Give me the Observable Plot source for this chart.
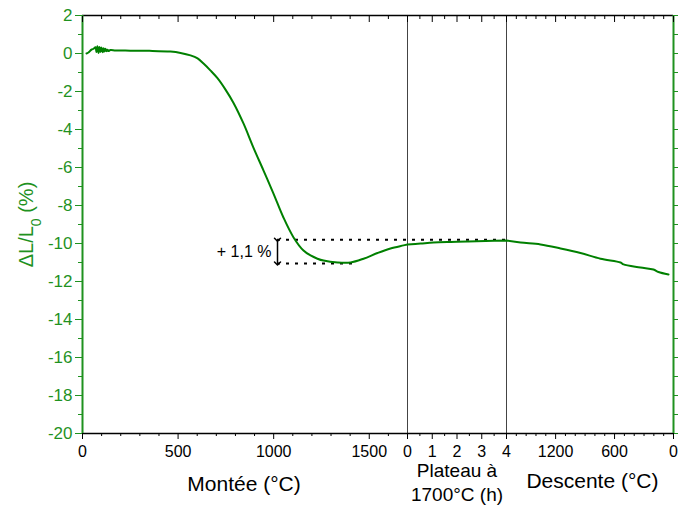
<!DOCTYPE html>
<html>
<head>
<meta charset="utf-8">
<script src="https://cdn.jsdelivr.net/npm/d3@7"></script>
<script src="https://cdn.jsdelivr.net/npm/@observablehq/plot@0.6"></script>
<style>
  html, body { margin: 0; padding: 0; background: #fff; }
  #chart { width: 678px; height: 513px; }
</style>
</head>
<body>
<div id="chart"></div>
<script>
// ---- Data ----
// Montée (heating, °C) vs ΔL/L0 (%)
const montee_T  = [21, 31, 47, 58, 68, 73, 78, 84, 89, 94, 99, 105, 110, 115, 120, 126, 131, 136, 146, 173, 250, 350, 460, 513, 565, 602, 633, 670, 706, 748, 790, 842, 894, 947, 999, 1051, 1104, 1156, 1193, 1229, 1261, 1334, 1402, 1470, 1543, 1611, 1679, 1700];
const montee_dL = [0.0, 0.05, 0.2, 0.25, 0.33, 0.08, 0.38, 0.03, 0.34, 0.08, 0.32, 0.06, 0.28, 0.1, 0.25, 0.12, 0.2, 0.13, 0.18, 0.16, 0.15, 0.14, 0.1, 0.03, -0.1, -0.26, -0.53, -0.9, -1.3, -1.9, -2.6, -3.68, -4.95, -6.16, -7.37, -8.63, -9.68, -10.37, -10.63, -10.8, -10.9, -11.0, -11.0, -10.8, -10.5, -10.26, -10.1, -10.05];
// Plateau à 1700°C (h)
const plateau_h  = [0, 0.53, 1.05, 1.74, 2.42, 3.15, 4];
const plateau_dL = [-10.05, -10.0, -9.95, -9.92, -9.9, -9.87, -9.84];
// Descente (cooling, °C)
const descente_T  = [1700, 1557, 1354, 1150, 947, 743, 539, 509, 336, 204, 153, 51];
const descente_dL = [-9.84, -9.95, -10.05, -10.26, -10.5, -10.8, -11.0, -11.1, -11.26, -11.37, -11.5, -11.63];

// Tick values
const montee_major = [0, 500, 1000, 1500];
const montee_minor = [100, 200, 300, 400, 600, 700, 800, 900, 1100, 1200, 1300, 1400, 1600];
const plateau_major = [0, 1, 2, 3, 4];
const plateau_minor = [0.5, 1.5, 2.5, 3.5];
const descente_major = [1200, 600, 0];
const descente_minor = [1600, 1500, 1400, 1300, 1100, 1000, 900, 800, 700, 500, 400, 300, 200, 100];
const y_major = [2, 0, -2, -4, -6, -8, -10, -12, -14, -16, -18, -20];
const y_minor = [1, -1, -3, -5, -7, -9, -11, -13, -15, -17, -19];

// Annotation (+1,1 %)
const annot_text = "+ 1,1 %";
const annot_top = -9.8, annot_bottom = -11.05, annot_T = 1020, annot_bottom_end_T = 1412;

// ---- Composite x axis (three segments) ----
const W_M = 325, W_P = 99, W_D = 167;
const uM = T => T / 1700 * W_M;
const uP = h => W_M + h / 4 * W_P;
const uD = T => W_M + W_P + (1700 - T) / 1700 * W_D;

const curve = [
  ...montee_T.map((t, i) => ({u: uM(t), v: montee_dL[i]})),
  ...plateau_h.map((h, i) => ({u: uP(h), v: plateau_dL[i]})),
  ...descente_T.map((t, i) => ({u: uD(t), v: descente_dL[i]}))
];

const xLabels = [
  ...montee_major.map(t => ({u: uM(t), label: String(t)})),
  ...plateau_major.map(h => ({u: uP(h), label: String(h)})),
  ...descente_major.map(t => ({u: uD(t), label: String(t)}))
];
const xMajor = xLabels.map(d => d.u);
const xMinor = [...montee_minor.map(uM), ...plateau_minor.map(uP), ...descente_minor.map(uD)];

const GREEN = "#008000";
const AXG = "#1f921f";
const FONT = "'Liberation Sans', Arial, sans-serif";

const plot = Plot.plot({
  width: 678,
  height: 513,
  marginLeft: 82,
  marginRight: 5,
  marginTop: 15,
  marginBottom: 80,
  style: {fontFamily: FONT, fontSize: "16px", background: "#fff", overflow: "visible"},
  x: {domain: [0, W_M + W_P + W_D], axis: null},
  y: {domain: [-20, 2], axis: null},
  marks: [
    // separators
    Plot.ruleX([uP(0), uP(4)], {stroke: "#444", strokeWidth: 1}),
    // annotation dotted lines
    Plot.ruleY([annot_top], {x1: uM(annot_T), x2: uP(4), stroke: "#000", strokeWidth: 2, strokeDasharray: "3,6"}),
    Plot.ruleY([annot_bottom], {x1: uM(annot_T), x2: uM(annot_bottom_end_T), stroke: "#000", strokeWidth: 2, strokeDasharray: "3,6"}),
    Plot.link([{x: uM(annot_T), y1: annot_top, y2: annot_bottom}], {x1: "x", x2: "x", y1: "y1", y2: "y2", stroke: "#000", strokeWidth: 1.5, markerStart: "arrow", markerEnd: "arrow"}),
    Plot.text([{x: uM(annot_T), y: (annot_top + annot_bottom) / 2}], {x: "x", y: "y", text: () => annot_text, dx: -6, textAnchor: "end", fill: "#000", fontSize: 16}),
    // curve
    Plot.line(curve, {x: "u", y: "v", stroke: GREEN, strokeWidth: 2, curve: "catmull-rom"}),
    // frame lines
    Plot.ruleY([-20], {stroke: "#000", strokeWidth: 1.5}),
    Plot.ruleY([2], {stroke: "#000", strokeWidth: 1.5}),
    Plot.ruleX([0], {stroke: AXG, strokeWidth: 2}),
    Plot.ruleX([W_M + W_P + W_D], {stroke: AXG, strokeWidth: 2}),
    // bottom axis ticks
    Plot.axisX(xMajor, {anchor: "bottom", tickSize: 6, tickFormat: () => "", stroke: "#000", label: null}),
    Plot.axisX(xMinor, {anchor: "bottom", tickSize: 3, tickFormat: () => "", stroke: "#000", label: null}),
    // bottom tick labels
    Plot.text(xLabels, {x: "u", text: "label", frameAnchor: "bottom", dy: 18, lineAnchor: "middle", fill: "#000", fontSize: 16}),
    // top mirrored ticks (inward)
    Plot.axisX(xMajor, {anchor: "top", tickSize: -6, tickFormat: () => "", stroke: "#000", label: null}),
    Plot.axisX(xMinor, {anchor: "top", tickSize: -3, tickFormat: () => "", stroke: "#000", label: null}),
    // left axis ticks
    Plot.axisY(y_major, {anchor: "left", tickSize: 7, tickFormat: () => "", stroke: AXG, label: null}),
    Plot.axisY(y_minor, {anchor: "left", tickSize: 4, tickFormat: () => "", stroke: AXG, label: null}),
    // left tick labels
    Plot.text(y_major, {y: d => d, text: d => String(d), frameAnchor: "left", dx: -10, textAnchor: "end", fill: AXG, fontSize: 17}),
    // right axis
    Plot.axisY([...y_major, ...y_minor], {anchor: "right", tickSize: 5, tickFormat: () => "", stroke: AXG, label: null}),
    // axis titles
    Plot.text([{x: uM(845), y: -20}], {x: "x", y: "y", text: () => "Montée (°C)", dy: 51, fill: "#000", fontSize: 21}),
    Plot.text([{x: uP(2), y: -20}], {x: "x", y: "y", text: () => "Plateau à", dy: 37, fill: "#000", fontSize: 19}),
    Plot.text([{x: uP(2), y: -20}], {x: "x", y: "y", text: () => "1700°C (h)", dy: 61, fill: "#000", fontSize: 19}),
    Plot.text([{x: uD(825), y: -20}], {x: "x", y: "y", text: () => "Descente (°C)", dy: 48, fill: "#000", fontSize: 21}),
    Plot.text([{y: -9}], {y: "y", frameAnchor: "left", textAnchor: "middle", text: () => "ΔL/L0 (%)", dx: -56, rotate: -90, fill: AXG, fontSize: 20, className: "ylabel"})
  ]
});

// subscript for L0
d3.select(plot).selectAll(".ylabel text").each(function() {
  const t = d3.select(this);
  t.text(null);
  t.append("tspan").text("ΔL/L");
  t.append("tspan").attr("baseline-shift", "sub").attr("font-size", "14").text("0");
  t.append("tspan").text(" (%)");
});

document.getElementById("chart").appendChild(plot);
</script>
</body>
</html>
